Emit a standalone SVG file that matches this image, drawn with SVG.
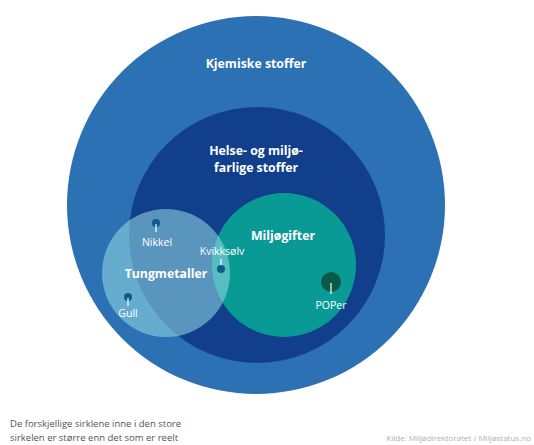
<svg xmlns="http://www.w3.org/2000/svg" width="534" height="445" viewBox="0 0 534 445">
  <style>
    .title { font-family: "Open Sans", "Liberation Sans", sans-serif; font-weight: bold; fill: #ffffff; text-anchor: middle; font-size: 12.3px; }
    .label { font-family: "Open Sans", "Liberation Sans", sans-serif; fill: #ffffff; text-anchor: middle; font-size: 10.5px; }
    .stem { stroke: #ffffff; stroke-width: 1.2; }
    .dot { fill: #0e5a8c; }
    .note { font-family: "Open Sans", "Liberation Sans", sans-serif; fill: #555555; font-size: 9.5px; }
    .source { font-family: "Open Sans", "Liberation Sans", sans-serif; fill: #b0b0b0; font-size: 8px; text-anchor: end; }
  </style>
  <rect width="534" height="445" fill="#ffffff"/>

  <g id="kjemiske-stoffer">
    <circle cx="256" cy="205" r="189" fill="#2b71b3"/>
    <text class="title" x="256" y="68">Kjemiske stoffer</text>
  </g>

  <g id="helse-miljofarlige">
    <circle cx="257" cy="235" r="128" fill="#123f8c"/>
    <text class="title" x="256" y="155">Helse- og miljø-</text>
    <text class="title" x="256" y="172">farlige stoffer</text>
  </g>

  <g id="miljogifter">
    <circle cx="284" cy="265" r="72" fill="#0a9a96"/>
    <text class="title" x="283" y="240">Miljøgifter</text>
  </g>

  <g id="poper">
    <circle cx="331" cy="282" r="10" fill="#0b5a48"/>
    <line class="stem" x1="331" y1="283" x2="331" y2="294"/>
    <text class="label" x="331" y="309">POPer</text>
  </g>

  <g id="tungmetaller">
    <circle cx="166" cy="273" r="64" fill="#96dce6" fill-opacity="0.55"/>
    <text class="title" x="166" y="278">Tungmetaller</text>
  </g>

  <g id="nikkel">
    <circle class="dot" cx="156" cy="223" r="4"/>
    <line class="stem" x1="156" y1="224" x2="156" y2="232"/>
    <text class="label" x="157" y="246">Nikkel</text>
  </g>

  <g id="kvikksolv">
    <text class="label" x="222" y="255">Kvikksølv</text>
    <line class="stem" x1="221" y1="259" x2="221" y2="268"/>
    <circle class="dot" cx="221" cy="269" r="4"/>
  </g>

  <g id="gull">
    <circle class="dot" cx="128" cy="297" r="4"/>
    <line class="stem" x1="128" y1="298" x2="128" y2="306"/>
    <text class="label" x="128" y="317">Gull</text>
  </g>

  <text class="note" x="10" y="427">De forskjellige sirklene inne i den store</text>
  <text class="note" x="10" y="441">sirkelen er større enn det som er reelt</text>
  <text class="source" x="531" y="441">Kilde: Miljødirektoratet  / Miljøstatus.no</text>
</svg>
